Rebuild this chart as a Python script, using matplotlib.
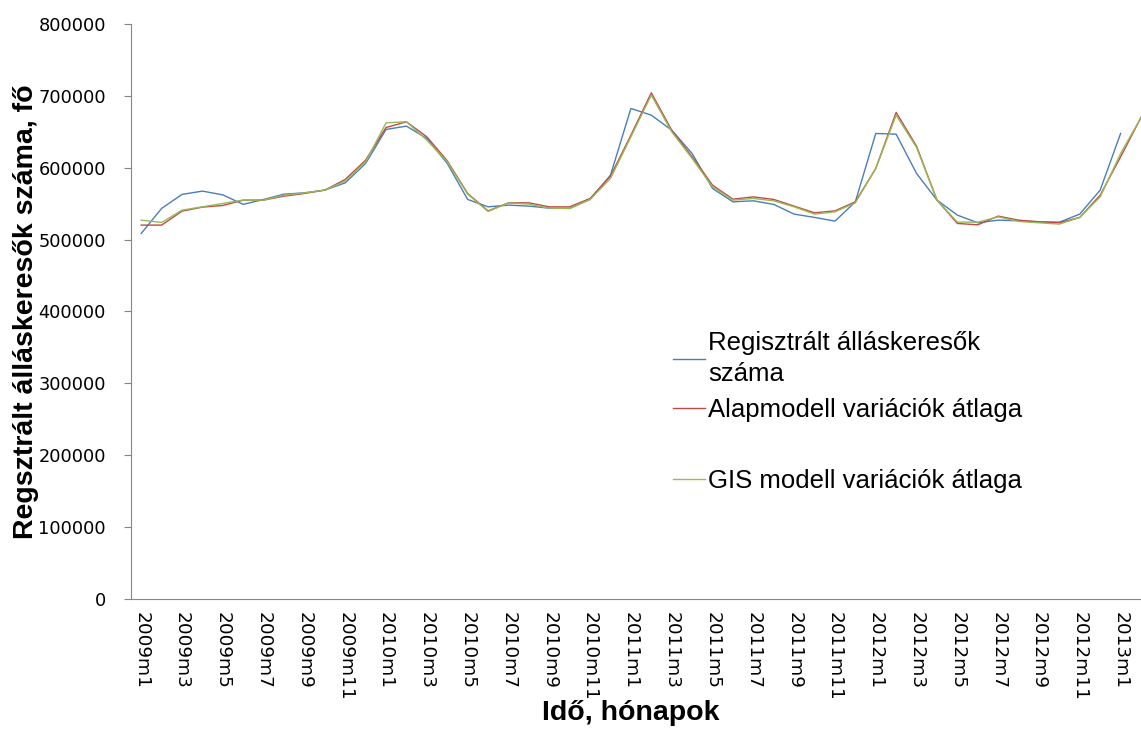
import numpy as np
import matplotlib
matplotlib.use("Agg")
import matplotlib.pyplot as plt

# months 2009m1 .. 2013m2
years = [2009, 2010, 2011, 2012, 2013]
months = [f"{y}m{m}" for y in years for m in range(1, 13)][:50]

registered = [508600, 543400, 562900, 567500, 562300, 549000, 555900, 563300, 565100, 568900,
              579000, 606000, 653300, 657900, 640700, 606000, 555900, 545600, 548000, 546600,
              543800, 543400, 555900, 589700, 682500, 673200, 652300, 619800, 571200, 552600,
              554000, 549000, 535500, 530900, 525700, 552600, 647700, 646700, 592100, 555000,
              534100, 523400, 527100, 526200, 524800, 524300, 535500, 568900, 647700]

base_model = [520200, 520200, 539600, 545200, 547500, 554900, 555000, 560500, 564200, 568900,
              583700, 610600, 656000, 663900, 643000, 609600, 564200, 540000, 551200, 551200,
              545600, 545600, 557300, 588300, 645300, 704200, 652300, 615200, 575800, 556300,
              559500, 555900, 546600, 537300, 540000, 552600, 599000, 677000, 630000, 555000,
              522500, 520600, 532700, 527100, 524800, 523400, 530900, 561900, 615200, 670000]

gis_model = [527100, 523900, 541000, 545700, 550300, 555000, 555000, 561900, 565000, 569000,
             581400, 608200, 662500, 664000, 638400, 608200, 563300, 539200, 551000, 549400,
             543800, 543400, 555900, 585100, 643000, 701000, 650000, 612900, 573500, 555000,
             557300, 554000, 545600, 535500, 538700, 551200, 599000, 673200, 628200, 555000,
             524300, 524300, 531700, 525300, 523400, 521600, 530900, 559500, 619800, 670000]

labels = ["Regisztrált álláskeresők\nszáma",
          "Alapmodell variációk átlaga",
          "GIS modell variációk átlaga"]

W, H = 1141, 729
fig = plt.figure(figsize=(W / 100, H / 100), dpi=100)
ax = fig.add_axes([131 / W, 1 - 599 / H, 1 - 131 / W, (599 - 24) / H])

l1, = ax.plot(np.arange(len(registered)), registered, color="#4A7EBB", lw=1.0)
l2, = ax.plot(np.arange(len(base_model)), base_model, color="#BE4B48", lw=1.0)
l3, = ax.plot(np.arange(len(gis_model)), gis_model, color="#98B954", lw=1.0)

ax.set_xlim(-0.5, 49.0)
ax.set_ylim(0, 800000)
ax.set_yticks(np.arange(0, 800001, 100000))
ax.set_xticks(np.arange(0, 49, 2))
ax.set_xticklabels(months[0:49:2], rotation=-90, fontsize=13.3)
ax.tick_params(axis="y", labelsize=12.8, length=5, color="#868686", pad=13)
ax.tick_params(axis="x", length=0, pad=9)

for s in ["top", "right"]:
    ax.spines[s].set_visible(False)
ax.spines["left"].set_color("#868686")
ax.spines["bottom"].set_color("#868686")

ax.set_ylabel("Regsztrált álláskeresők száma, fő", fontsize=20.5, fontweight="bold",
              family="Liberation Sans")
ax.yaxis.set_label_coords(-0.091, 0.5)
fig.text(631 / W, 1 - 713 / H, "Idő, hónapok", fontsize=20.5, fontweight="bold",
         family="Liberation Sans", ha="center", va="center")

leg_kw = dict(bbox_transform=fig.transFigure, frameon=False, borderpad=0,
              prop={"family": "Liberation Sans", "size": 18.5},
              handlelength=1.25, handletextpad=0.12)
leg1 = ax.legend([l1, l2], labels[:2], loc="upper left",
                 bbox_to_anchor=(660 / W, 1 - 318 / H), labelspacing=0.45, **leg_kw)
leg1.get_texts()[0].set_linespacing(1.4)
ax.add_artist(leg1)
ax.legend([l3], labels[2:], loc="center left",
          bbox_to_anchor=(660 / W, 1 - 481 / H), **leg_kw)

fig.savefig("out.png", dpi=100)
